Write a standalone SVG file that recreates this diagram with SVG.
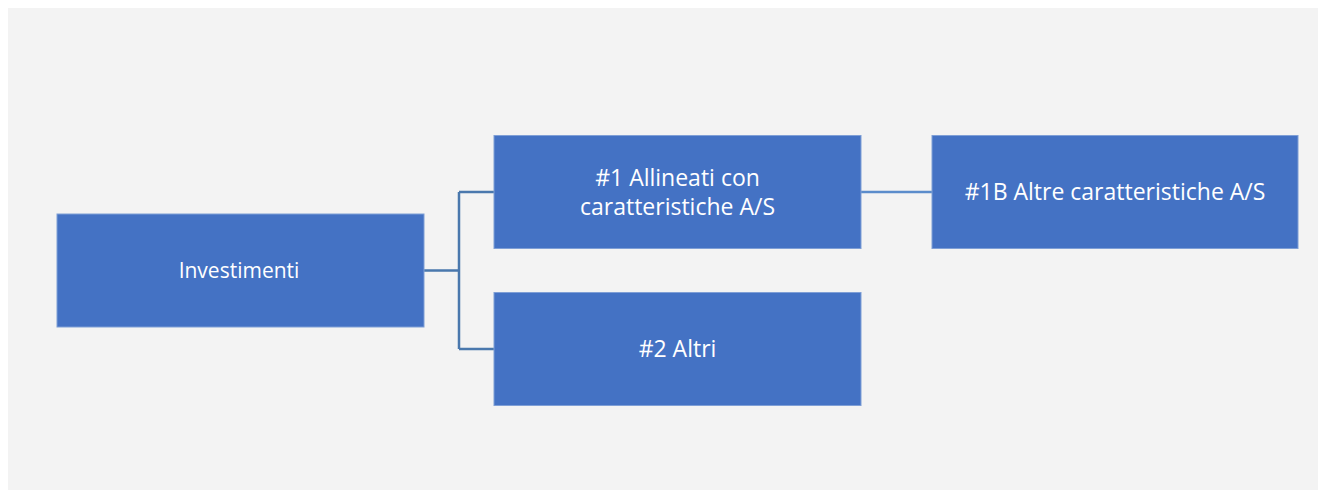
<svg xmlns="http://www.w3.org/2000/svg" width="1326" height="490" viewBox="0 0 1326 490">
<style>
.box{fill:#4472c4;stroke:#7f9fd6;stroke-width:1}
.lbl{fill:#ffffff;font-family:"Open Sans","Liberation Sans",sans-serif;font-size:23px;text-anchor:middle;dominant-baseline:central}
.small{font-size:21px}
.conn{fill:none;stroke:#4a78ad;stroke-width:2.5}
.conn2{fill:none;stroke:#5b8ccb;stroke-width:2.5}
</style>
<rect x="0" y="0" width="1326" height="490" fill="#ffffff"/>
<rect x="8" y="8" width="1310" height="482" fill="#f3f3f3"/>
<g id="connectors">
<path class="conn" d="M424 270.5 H459 M459 192 V349 M459 192 H494 M459 349 H494"/>
<path class="conn2" d="M861 192 H932"/>
</g>
<g id="node-investimenti">
<rect class="box" x="57" y="214" width="367" height="113"/>
<text class="lbl small" x="239" y="270">Investimenti</text>
</g>
<g id="node-1">
<rect class="box" x="494" y="135.5" width="367" height="113"/>
<text class="lbl" x="677.5" y="177">#1 Allineati con</text>
<text class="lbl" x="677.5" y="206">caratteristiche A/S</text>
</g>
<g id="node-2">
<rect class="box" x="494" y="292.5" width="367" height="113"/>
<text class="lbl" x="677.5" y="348">#2 Altri</text>
</g>
<g id="node-1b">
<rect class="box" x="932" y="135.5" width="366" height="113"/>
<text class="lbl" x="1115" y="191">#1B Altre caratteristiche A/S</text>
</g>
</svg>
